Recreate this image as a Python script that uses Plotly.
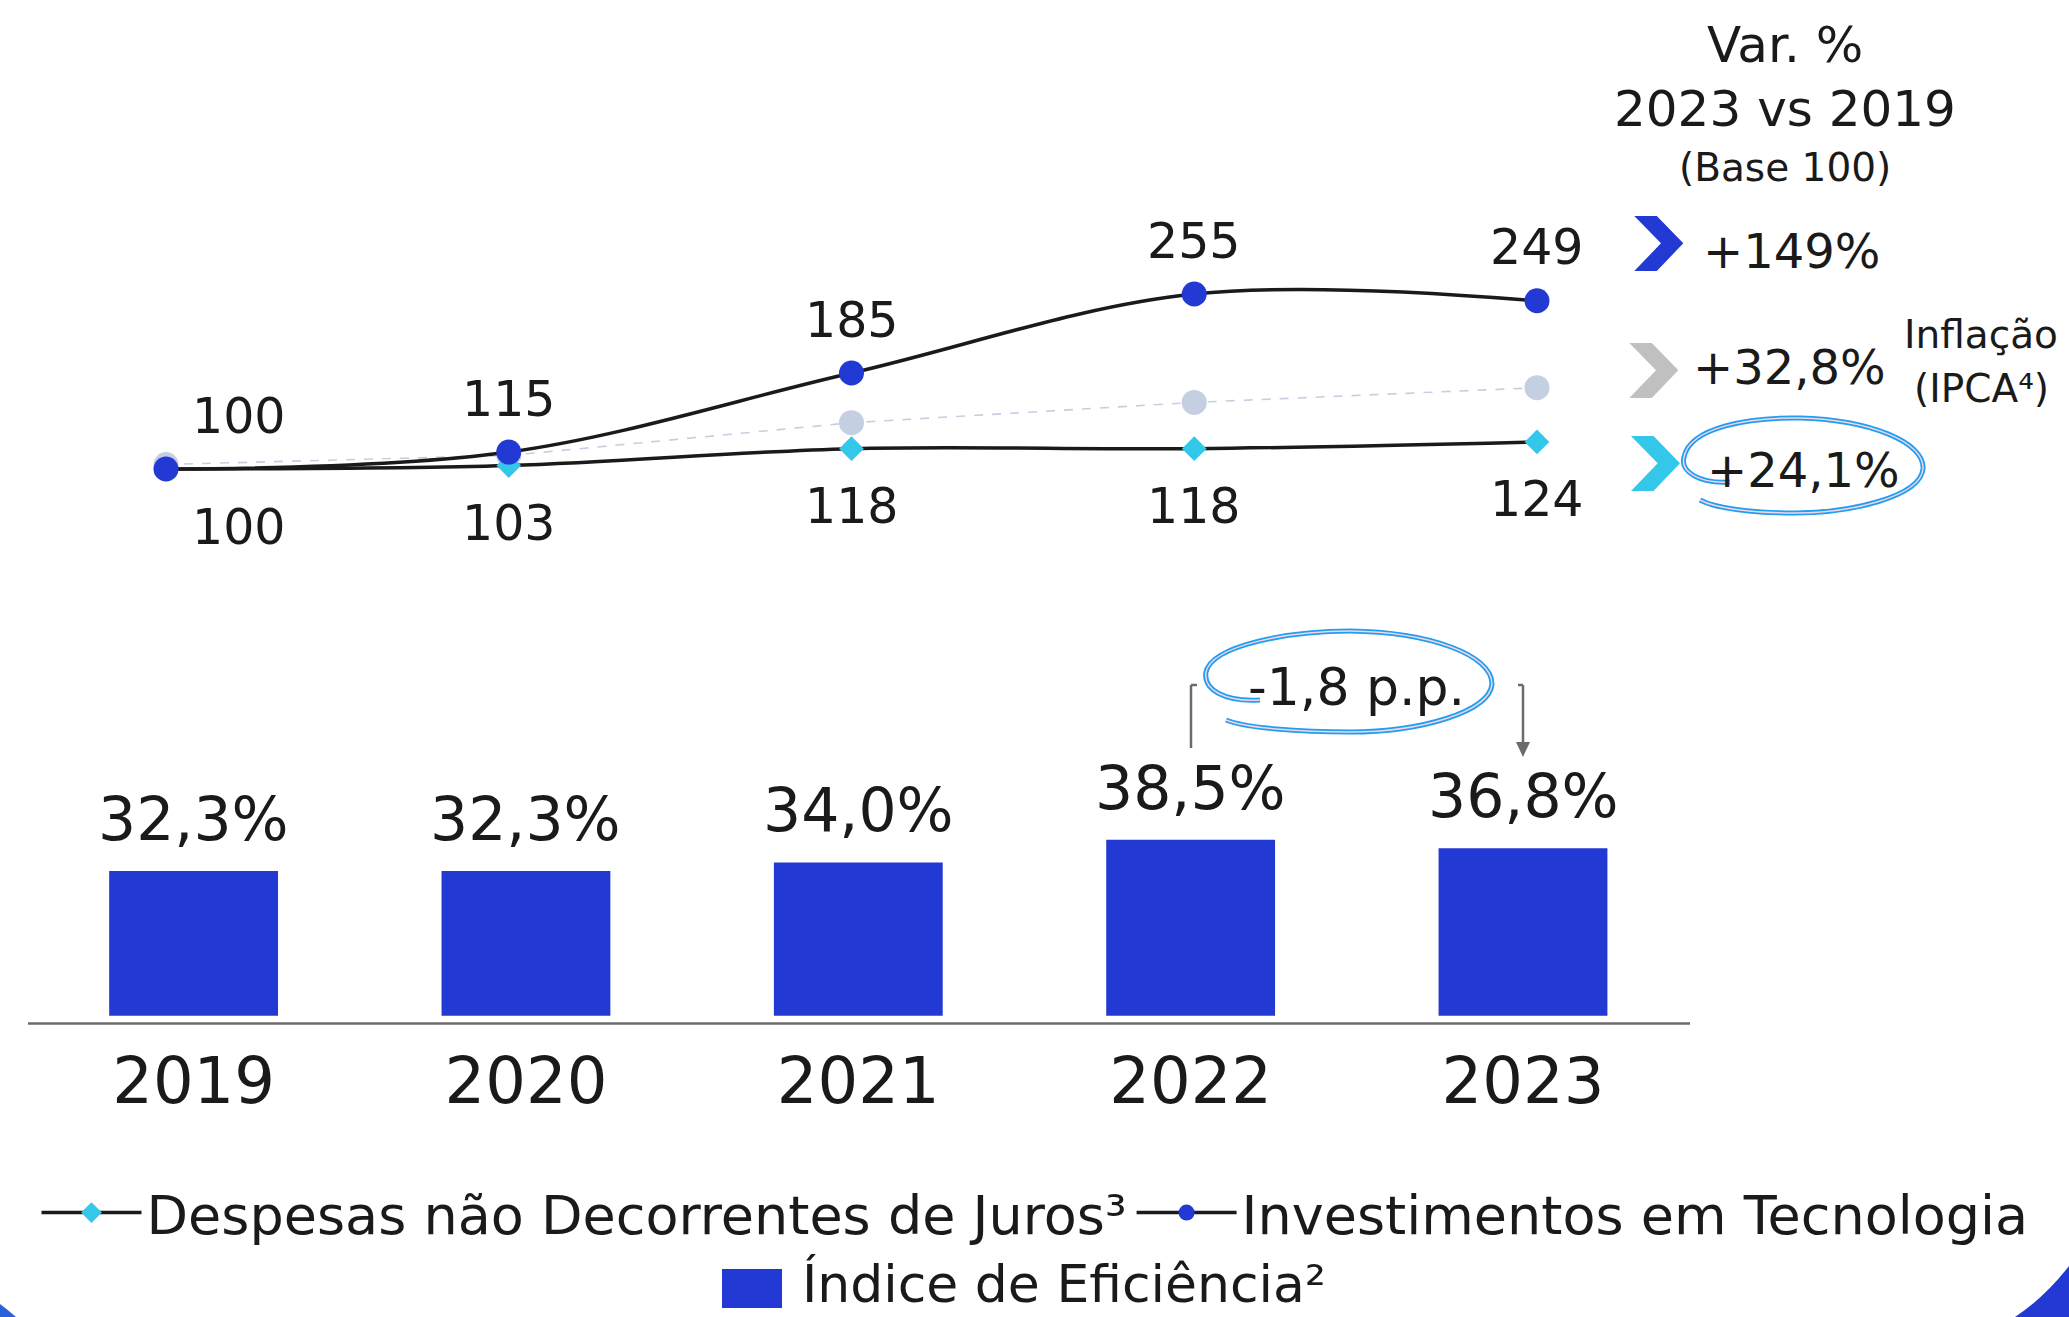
import plotly.graph_objects as go

# page is 2069x1317; the html body margin is reset to 0 below, so the figure fills the page
PAGE_W, PAGE_H, OFF = 2069, 1317, 0
FW, FH = PAGE_W - 2 * OFF, PAGE_H - 2 * OFF

# ---------------- data ----------------
years = ["2019", "2020", "2021", "2022", "2023"]
despesas = [100, 103, 118, 118, 124]
investimentos = [100, 115, 185, 255, 249]
inflacao = [104, 112, 141, 159, 172]          # gray dashed reference line
eficiencia = [32.3, 32.3, 34.0, 38.5, 36.8]

var_title = ["Var. %", "2023 vs 2019", "(Base 100)"]
var_values = ["+149%", "+32,8%", "+24,1%"]
inflacao_label = ["Inflação", "(IPCA⁴)"]
delta_label = "-1,8 p.p."

name_desp = "Despesas não Decorrentes de Juros³"
name_inv = "Investimentos em Tecnologia"
name_ef = "Índice de Eficiência²"

# ---------------- styles ----------------
FONT = "DejaVu Sans"
TXT = "#1a1a1a"
BLUE = "#2339d3"
CYAN = "#33c8ea"
GRAYDOT = "#c5cfe2"
GRAYCHEV = "#c0c0c0"


def fx(x):
    return (x - OFF) / FW


def fy(y):
    return 1 - (y - OFF) / FH


def P(x, y):
    return f"{fx(x):.5f},{fy(y):.5f}"


fig = go.Figure()

fig.add_trace(go.Scatter(
    x=years, y=inflacao, mode="lines+markers", showlegend=False,
    line=dict(color=GRAYDOT, width=1.6, dash="dash"),
    marker=dict(color=GRAYDOT, size=25, symbol="circle"),
    xaxis="x", yaxis="y", hoverinfo="skip"))

fig.add_trace(go.Scatter(
    x=years, y=despesas, mode="lines+markers", name=name_desp,
    line=dict(color=TXT, width=3.5, shape="spline"),
    marker=dict(color=CYAN, size=19, symbol="diamond"),
    xaxis="x", yaxis="y", legend="legend"))

fig.add_trace(go.Scatter(
    x=years, y=investimentos, mode="lines+markers", name=name_inv,
    line=dict(color=TXT, width=3.5, shape="spline"),
    marker=dict(color=BLUE, size=25, symbol="circle"),
    xaxis="x", yaxis="y", legend="legend"))

fig.add_trace(go.Bar(
    x=years, y=eficiencia, name=name_ef, width=0.508,
    marker=dict(color=BLUE, line=dict(width=0)),
    xaxis="x2", yaxis="y2", legend="legend2"))

# ---------------- annotations ----------------
ann = []
for i, (yr, v) in enumerate(zip(years, investimentos)):
    ann.append(dict(x=i, y=v, xref="x", yref="y", text=str(v), showarrow=False,
                    xanchor="center", yanchor="middle", xshift=73 if i == 0 else 0,
                    yshift=53, font=dict(size=49, color=TXT, family=FONT)))
for i, (yr, v) in enumerate(zip(years, despesas)):
    ann.append(dict(x=i, y=v, xref="x", yref="y", text=str(v), showarrow=False,
                    xanchor="center", yanchor="middle", xshift=73 if i == 0 else 0,
                    yshift=-58, font=dict(size=49, color=TXT, family=FONT)))
for i, (yr, v) in enumerate(zip(years, eficiencia)):
    ann.append(dict(x=i, y=v, xref="x2", yref="y2",
                    text=f"{v:.1f}%".replace(".", ","), showarrow=False,
                    xanchor="center", yanchor="bottom", yshift=15,
                    font=dict(size=60, color=TXT, family=FONT)))

for t, cy, sz in zip(var_title, [45, 109, 167], [50, 50, 39]):
    ann.append(dict(x=fx(1785), y=fy(cy), xref="paper", yref="paper", text=t,
                    showarrow=False, xanchor="center", yanchor="middle",
                    font=dict(size=sz, color=TXT, family=FONT)))
for t, cx, cy in zip(var_values, [1791, 1789, 1803], [251, 367, 470]):
    ann.append(dict(x=fx(cx), y=fy(cy), xref="paper", yref="paper", text=t,
                    showarrow=False, xanchor="center", yanchor="middle",
                    font=dict(size=48, color=TXT, family=FONT)))
for t, cy in zip(inflacao_label, [334, 388]):
    ann.append(dict(x=fx(1981), y=fy(cy), xref="paper", yref="paper", text=t,
                    showarrow=False, xanchor="center", yanchor="middle",
                    font=dict(size=39, color=TXT, family=FONT)))
ann.append(dict(x=fx(1356), y=fy(687), xref="paper", yref="paper", text=delta_label,
                showarrow=False, xanchor="center", yanchor="middle",
                font=dict(size=52, color=TXT, family=FONT)))

# ---------------- shapes ----------------
shapes = []


def chevron(x0, y0, color):
    pts = [(x0, y0), (x0 + 22.5, y0), (x0 + 49, y0 + 27.3), (x0 + 22.5, y0 + 55),
           (x0, y0 + 55), (x0 + 26.7, y0 + 27.3)]
    d = "M " + " L ".join(P(*p) for p in pts) + " Z"
    return dict(type="path", path=d, xref="paper", yref="paper",
                fillcolor=color, line=dict(width=0), layer="above")


shapes.append(chevron(1634.3, 216, BLUE))
shapes.append(chevron(1629.3, 343, GRAYCHEV))
shapes.append(chevron(1631, 436, CYAN))


def loop(pts, dy=0):
    d = "M " + P(pts[0][0], pts[0][1] + dy)
    for k in range(1, len(pts), 3):
        d += " C " + " ".join(P(px, py + dy) for px, py in pts[k:k + 3])
    return d


loop1 = loop([(1730, 470), (1700, 472), (1680, 460), (1684, 445),
              (1690, 415), (1750, 405), (1800, 406),
              (1870, 408), (1925, 430), (1923, 457),
              (1920, 485), (1850, 501), (1795, 501),
              (1750, 501), (1715, 496), (1700, 488)], dy=12)
loop2 = loop([(1260, 700), (1225, 702), (1203, 690), (1206, 672),
              (1212, 645), (1290, 631), (1350, 631),
              (1430, 632), (1492, 655), (1492, 684),
              (1490, 712), (1420, 732), (1350, 732),
              (1300, 732), (1245, 728), (1226, 720)])
for d in (loop1, loop2):
    shapes.append(dict(type="path", path=d, xref="paper", yref="paper",
                       line=dict(color="#1f9ff0", width=5), layer="above"))
    shapes.append(dict(type="path", path=d, xref="paper", yref="paper",
                       line=dict(color="#f6d2e6", width=1.5), layer="above"))

GR = "#6b6b6b"
for (a, b) in [((1191, 748), (1191, 685)), ((1191, 685), (1197, 685)),
               ((1518, 685), (1523, 685)), ((1523, 685), (1523, 745))]:
    shapes.append(dict(type="line", x0=fx(a[0]), y0=fy(a[1]), x1=fx(b[0]), y1=fy(b[1]),
                       xref="paper", yref="paper", line=dict(color=GR, width=2.5)))
shapes.append(dict(type="path", path="M " + P(1516, 742) + " L " + P(1530, 742) + " L " + P(1523, 757) + " Z",
                   xref="paper", yref="paper", fillcolor=GR, line=dict(width=0)))

shapes.append(dict(type="line", x0=fx(28), y0=fy(1023.5), x1=fx(1690), y1=fy(1023.5),
                   xref="paper", yref="paper", line=dict(color=GR, width=2.5)))

shapes.append(dict(type="rect", x0=fx(722), y0=fy(1308), x1=fx(782), y1=fy(1269),
                   xref="paper", yref="paper", fillcolor=BLUE, line=dict(width=0)))

shapes.append(dict(type="path", path="M " + P(2015, 1317) + " Q " + P(2045, 1297) + " " + P(2069, 1266) +
                   " L " + P(2069, 1317) + " Z", xref="paper", yref="paper",
                   fillcolor=BLUE, line=dict(width=0)))
shapes.append(dict(type="path", path="M " + P(0, 1304) + " Q " + P(8, 1310) + " " + P(16, 1317) +
                   " L " + P(0, 1317) + " Z", xref="paper", yref="paper",
                   fillcolor="#2b62d9", line=dict(width=0)))

# ---------------- axes ----------------
lx0, lstep = 166, (1537 - 166) / 4
bx0, bstep = 193.6, (1523 - 193.6) / 4
ly100, lslope = 469, 1.129
bbot, bv0, bslope = 1015.7, 3.65, 5.05
left_px, right_px, top_px, bot_px = OFF, OFF + FW, OFF, OFF + FH

hidden = dict(showgrid=False, zeroline=False, showline=False, ticks="",
              showticklabels=False, fixedrange=True)

fig.update_layout(
    width=FW, height=FH,
    margin=dict(l=0, r=0, t=0, b=0, autoexpand=False),
    paper_bgcolor="white", plot_bgcolor="rgba(0,0,0,0)",
    font=dict(family=FONT, color=TXT),
    showlegend=True,
    xaxis=dict(type="category", domain=[0, 1],
               range=[(left_px - lx0) / lstep, (right_px - lx0) / lstep], **hidden),
    yaxis=dict(domain=[0, 1],
               range=[100 - (bot_px - ly100) / lslope, 100 + (ly100 - top_px) / lslope], **hidden),
    xaxis2=dict(type="category", domain=[0, 1], anchor="y2",
                range=[(left_px - bx0) / bstep, (right_px - bx0) / bstep],
                showgrid=False, zeroline=False, showline=False, ticks="", fixedrange=True,
                automargin=False,
                tickfont=dict(size=64, color=TXT, family=FONT), ticklabelstandoff=22),
    yaxis2=dict(domain=[fy(bbot), 1], range=[bv0, bv0 + (bbot - top_px) / bslope], **hidden),
    legend=dict(orientation="h", x=fx(1035), xanchor="center", y=fy(1213), yanchor="middle",
                font=dict(size=54, color=TXT, family=FONT), itemwidth=100,
                bgcolor="rgba(0,0,0,0)", traceorder="normal"),
    legend2=dict(orientation="h", x=fx(712), xanchor="left", y=fy(1282), yanchor="middle",
                 font=dict(size=52, color=TXT, family=FONT), itemwidth=80,
                 bgcolor="rgba(0,0,0,0)"),
    annotations=ann,
    shapes=shapes,
)

fig.write_html("out.html", config={"displayModeBar": False},
               post_script="document.body.style.margin='0';")
